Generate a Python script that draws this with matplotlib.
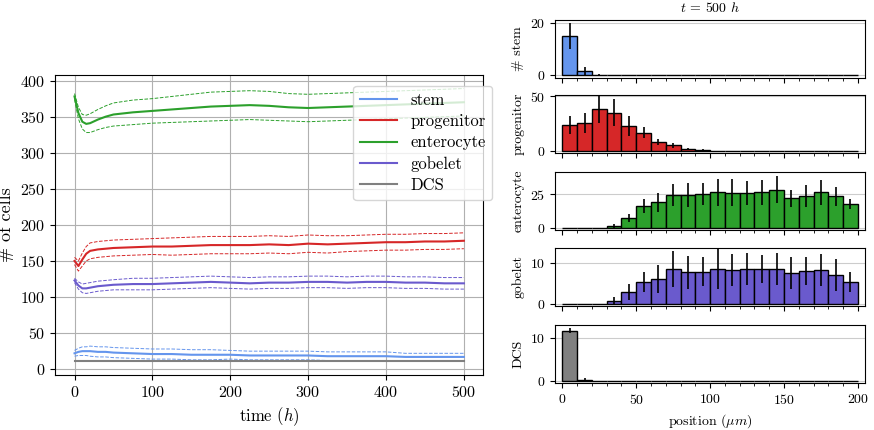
import matplotlib
matplotlib.use("Agg")
import matplotlib.pyplot as plt
import numpy as np

plt.rcParams['font.family'] = 'serif'
plt.rcParams['font.serif'] = ['cmr10']
plt.rcParams['mathtext.fontset'] = 'cm'
plt.rcParams['axes.formatter.use_mathtext'] = True

t = [0, 5, 10, 15, 20, 30, 40, 50, 75, 100, 125, 150, 175, 200, 225, 250, 275, 300, 325, 350, 375, 400, 425, 450, 475, 500]
stem = [22, 24, 25, 25, 25, 24, 24, 23, 22, 21, 21, 20, 20, 20, 19, 19, 19, 19, 18, 18, 18, 18, 17, 17, 17, 17]
stem_sd = [4, 5, 6, 6, 7, 7, 7, 7, 7, 7, 7, 7, 7, 6, 6, 6, 6, 6, 6, 6, 6, 6, 5, 5, 5, 5]
prog = [150, 143, 152, 160, 164, 166, 167, 168, 169, 170, 170, 171, 172, 172, 172, 173, 172, 174, 173, 174, 175, 176, 176, 177, 177, 178]
prog_sd = [5, 7, 9, 10, 11, 11, 11, 11, 11, 11, 12, 12, 12, 12, 12, 12, 12, 12, 12, 11, 11, 11, 11, 11, 11, 11]
ent = [378, 355, 343, 340, 341, 346, 350, 353, 356, 358, 360, 362, 364, 365, 366, 365, 363, 362, 363, 364, 365, 366, 367, 368, 369, 370]
ent_sd = [4, 8, 10, 12, 13, 14, 15, 16, 17, 17, 18, 19, 20, 20, 20, 20, 19, 19, 19, 19, 19, 19, 19, 19, 19, 19]
gob = [123, 116, 112, 112, 113, 115, 116, 117, 118, 118, 119, 120, 121, 120, 119, 120, 120, 121, 121, 120, 121, 121, 120, 120, 119, 119]
gob_sd = [3, 5, 6, 7, 7, 7, 7, 7, 8, 8, 8, 8, 8, 8, 8, 8, 8, 8, 8, 8, 8, 8, 8, 8, 8, 8]
dcs = [12] * 26
dcs_sd = [0.5] * 26

names = ['stem', 'progenitor', 'enterocyte', 'gobelet', 'DCS']
colors = ['#6495ED', '#D62728', '#2CA02C', '#6A5ACD', '#808080']

bins = np.arange(0, 201, 10)
h_stem = [15, 1.8, 0.3] + [0.05]*17
e_stem = [5, 1.5, 0.4] + [0]*17
h_prog = [24, 26, 38, 35, 23, 17, 8.4, 5.4, 2.4, 1.2, 0.5, 0.3, 0.1, 0.1, 0.1, 0.1, 0.1, 0.1, 0.1, 0.1]
e_prog = [8, 9, 12, 12, 9, 5, 2.5, 2, 1, 0.5, 0, 0, 0, 0, 0, 0, 0, 0, 0, 0]
h_ent = [0, 0, 0.2, 1.7, 7.7, 16.3, 19, 24.3, 24.5, 25, 26.4, 26, 25.7, 26.4, 28.4, 21.9, 23.6, 26.4, 23.6, 17.8]
e_ent = [0, 0, 0, 1.5, 3, 5, 7, 8, 9, 8, 10, 10, 9, 9, 10, 6, 8, 9, 7, 4]
h_gob = [0, 0, 0, 0.8, 3, 5.5, 6.2, 8.6, 7.8, 8, 8.6, 8.4, 8.6, 8.6, 8.6, 7.6, 8.2, 8.4, 7.2, 5.4]
e_gob = [0, 0, 0, 0.8, 2, 2.5, 3.5, 4.5, 4, 3.5, 5, 4, 4, 3.5, 4, 4, 3.5, 4, 4, 2.5]
h_dcs = [11.7, 0.3] + [0.02]*18
e_dcs = [0.5, 0.3] + [0]*18

fig = plt.figure(figsize=(8.74, 4.3), dpi=100)
ax = fig.add_axes([0.063, 0.128, 0.49, 0.698])
for y, sd, c, n in zip([stem, prog, ent, gob, dcs], [stem_sd, prog_sd, ent_sd, gob_sd, dcs_sd], colors, names):
    y = np.array(y); sd = np.array(sd)
    ax.plot(t, y, color=c, lw=1.5, label=n)
    ax.plot(t, y + sd, color=c, lw=0.7, ls='--')
    ax.plot(t, y - sd, color=c, lw=0.7, ls='--')
ax.set_xlim(-25, 525)
ax.set_ylim(-8, 408)
ax.set_yticks(range(0, 401, 50))
ax.grid(True, color='#b0b0b0', lw=0.8)
ax.set_xlabel('time $(h)$', fontsize=12)
ax.set_ylabel('# of cells', fontsize=13)
ax.tick_params(labelsize=11.5)
ax.legend(loc='upper right', fontsize=12, framealpha=0.8, bbox_to_anchor=(1.04, 0.99),
          labelspacing=0.35, handlelength=2.2)

hs = [h_stem, h_prog, h_ent, h_gob, h_dcs]
es = [e_stem, e_prog, e_ent, e_gob, e_dcs]
ylims = [(-1, 21), (-1.5, 51), (-1.5, 41.5), (-0.5, 13.8), (-0.5, 13)]
ticks = [[0, 20], [0, 50], [0, 25], [0, 10], [0, 10]]
tops = [20, 95, 172, 248, 325]
centers = (bins[:-1] + bins[1:]) / 2
for i in range(5):
    top = tops[i]
    a = fig.add_axes([0.635, 1 - (top + 58) / 430, 0.355, 58 / 430])
    a.bar(centers, hs[i], width=10, color=colors[i], edgecolor='black', lw=1.0)
    a.errorbar(centers, hs[i], yerr=es[i], fmt='none', ecolor='black', elinewidth=1.2, capsize=0)
    a.set_xlim(-5, 205)
    a.set_ylim(*ylims[i])
    a.set_yticks(ticks[i])
    a.set_xticks(range(0, 201, 10), minor=True)
    a.set_xticks(range(0, 201, 50))
    a.grid(True, axis='y', color='#cccccc', lw=0.8)
    a.set_axisbelow(True)
    a.set_ylabel('# stem' if i == 0 else names[i], fontsize=10)
    a.tick_params(labelsize=10)
    if i < 4:
        a.set_xticklabels([])
    else:
        a.set_xlabel('position $(\\mu m)$', fontsize=10)
    if i == 0:
        a.set_title('$t$ = 500 $h$', fontsize=10)
fig.savefig('out.png', dpi=100)
